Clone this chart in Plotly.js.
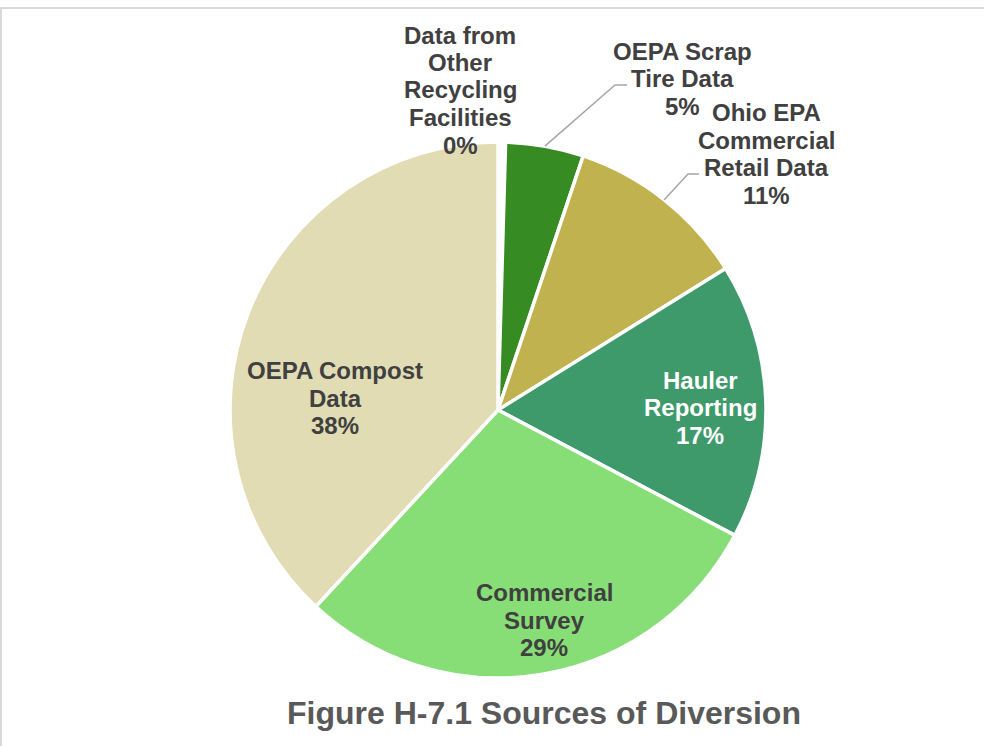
<!DOCTYPE html>
<html>
<head>
<meta charset="utf-8">
<script src="https://cdn.plot.ly/plotly-3.0.1.min.js"></script>
<style>html,body{margin:0;padding:0;background:#fff;}#chart{width:984px;height:746px;}</style>
</head>
<body>
<div id="chart"></div>
<script>
// ---- data ----
const categories = [
  "Data from<br>Other<br>Recycling<br>Facilities",
  "OEPA Scrap<br>Tire Data",
  "Ohio EPA<br>Commercial<br>Retail Data",
  "Hauler<br>Reporting",
  "Commercial<br>Survey",
  "OEPA Compost<br>Data"
];
const values = [0.45, 4.7, 11.0, 16.6, 29.15, 38.1];
const sliceColors = ["#FFFFFF", "#368C22", "#BFB24F", "#3E996B", "#88DE76", "#E1DCB4"];
const titleText = "Figure H-7.1 Sources of Diversion";

// ---- layout geometry (pixels) ----
const W = 984, H = 746;
const CX = 498, CY = 410, R = 268;
const LINE = 27.5;
const FONT = "Liberation Sans, Arial, sans-serif";
const fx = x => x / W;
const fy = y => 1 - y / H;

const total = values.reduce((a, b) => a + b, 0);
const labelLines = i => categories[i].split("<br>").concat([Math.round(values[i] / total * 100) + "%"]);

// label placement (pixels): text block center, colour, optional leader elbow/end
const placement = [
  {i: 0, x: 460, y: 90,  color: "#404040", leader: null},
  {i: 1, x: 682, y: 79,  color: "#404040", leader: [[615, 85], [627, 85]]},
  {i: 2, x: 766, y: 154, color: "#404040", leader: [[688, 174], [699, 174]]},
  {i: 3, x: 700, y: 407.5, color: "#FFFFFF", leader: null},
  {i: 4, x: 544, y: 620, color: "#404040", leader: null},
  {i: 5, x: 335, y: 398, color: "#404040", leader: null}
];

function midAngle(i) {
  let start = 0;
  for (let k = 0; k < i; k++) start += values[k];
  return (start + values[i] / 2) / total * 2 * Math.PI;
}

const annotations = [];
placement.forEach(p => {
  const lines = labelLines(p.i);
  const n = lines.length;
  lines.forEach((t, k) => {
    annotations.push({
      xref: "paper", yref: "paper",
      x: fx(p.x), y: fy(p.y + (k - (n - 1) / 2) * LINE),
      xanchor: "center", yanchor: "middle",
      text: t, showarrow: false, align: "center",
      font: {family: FONT, size: 24, color: p.color, weight: "bold"}
    });
  });
});

const shapes = [
  {type: "rect", xref: "paper", yref: "paper", x0: fx(1), x1: fx(1000), y0: fy(8), y1: fy(800),
   line: {color: "#D9D9D9", width: 2}, fillcolor: "rgba(0,0,0,0)", layer: "below"}
];
placement.forEach(p => {
  if (!p.leader) return;
  const a = midAngle(p.i);
  const sx = CX + R * Math.sin(a), sy = CY - R * Math.cos(a);
  const pts = [[sx, sy]].concat(p.leader);
  const path = pts.map((pt, k) => (k ? "L" : "M") + fx(pt[0]) + "," + fy(pt[1])).join(" ");
  shapes.push({type: "path", xref: "paper", yref: "paper", path: path,
               line: {color: "#A6A6A6", width: 1.5}, layer: "above"});
});

const trace = {
  type: "pie",
  labels: categories,
  values: values,
  sort: false,
  direction: "clockwise",
  rotation: 0,
  marker: {colors: sliceColors, line: {color: "#FFFFFF", width: 3.5}},
  textinfo: "none",
  hoverinfo: "label+percent",
  domain: {x: [fx(CX - R), fx(CX + R)], y: [fy(CY + R), fy(CY - R)]}
};

const layout = {
  width: W, height: H,
  margin: {l: 0, r: 0, t: 0, b: 0},
  paper_bgcolor: "#FFFFFF",
  showlegend: false,
  title: {
    text: titleText,
    x: fx(544), xanchor: "center", xref: "paper",
    y: fy(713), yanchor: "middle", yref: "paper",
    font: {family: FONT, size: 32, color: "#595959", weight: "bold"}
  },
  annotations: annotations,
  shapes: shapes
};

Plotly.newPlot("chart", [trace], layout, {displayModeBar: false, staticPlot: true});
</script>
</body>
</html>
